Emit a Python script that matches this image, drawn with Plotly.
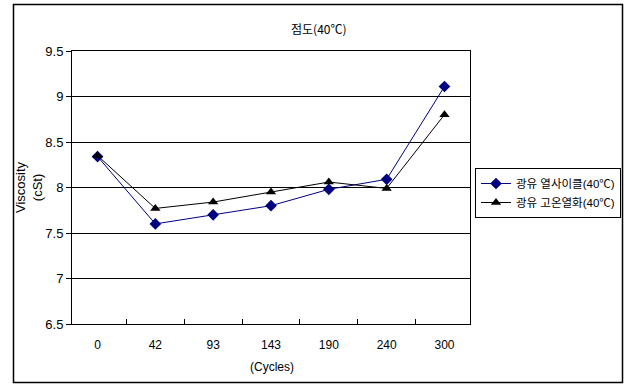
import plotly.graph_objects as go

# Data
cycles = ["0", "42", "93", "143", "190", "240", "300"]
thermal_cycle = [8.34, 7.60, 7.70, 7.80, 7.98, 8.09, 9.11]
high_temp_aging = [8.35, 7.77, 7.84, 7.95, 8.06, 7.99, 8.80]
y_ticks = [6.5, 7, 7.5, 8, 8.5, 9, 9.5]
y_tick_text = ["6.5", "7", "7.5", "8", "8.5", "9", "9.5"]

W, H = 626, 385
L, R, T, B = 72, 470, 51, 324  # plot area in pixels

def px_x(x):
    return (x - L) / (R - L)

def px_y(y):
    return (B - y) / (B - T)

FONT = "Liberation Sans, Arial, Noto Sans CJK KR"

fig = go.Figure()
fig.add_trace(go.Scatter(
    x=cycles, y=thermal_cycle, mode="lines+markers",
    name="광유 열사이클(40℃)",
    line=dict(color="#000080", width=1),
    marker=dict(symbol="diamond", size=9, color="#000080"),
))
fig.add_trace(go.Scatter(
    x=cycles, y=high_temp_aging, mode="lines+markers",
    name="광유 고온열화(40℃)",
    line=dict(color="#000000", width=1),
    marker=dict(symbol="triangle-up", size=9, color="#000000"),
))

fig.update_layout(
    width=W, height=H,
    margin=dict(l=L, r=W - R, t=T, b=H - B, pad=0, autoexpand=False),
    paper_bgcolor="white", plot_bgcolor="white",
    font=dict(family=FONT, size=12, color="#000000"),
    showlegend=True,
    legend=dict(
        xref="container", yref="container",
        x=475 / W, y=1 - 168 / H, xanchor="left", yanchor="top",
        bordercolor="#000000", borderwidth=1, bgcolor="white",
        font=dict(family=FONT, size=11.5), tracegroupgap=0,
        itemwidth=30,
    ),
    xaxis=dict(
        type="category", showgrid=False, zeroline=False,
        showline=True, linecolor="#000000", linewidth=1, mirror=True,
        ticks="inside", ticklen=5, tickcolor="#000000", tickson="boundaries",
        tickfont=dict(size=12), ticklabelstandoff=10, fixedrange=True,
    ),
    yaxis=dict(
        range=[6.5, 9.5], tickvals=y_ticks, ticktext=y_tick_text,
        showgrid=True, gridcolor="#000000", gridwidth=1, zeroline=False,
        showline=True, linecolor="#000000", linewidth=1, mirror=True,
        ticks="outside", ticklen=5, tickcolor="#000000",
        tickfont=dict(size=13), fixedrange=True,
    ),
    annotations=[
        dict(text="점도(40℃)", x=px_x(319), y=px_y(28), xref="paper", yref="paper",
             xanchor="center", yanchor="middle",
             showarrow=False, font=dict(family="Noto Sans CJK KR", size=12)),
        dict(text="Viscosity<br>(cSt)", x=px_x(29), y=px_y(187), xref="paper", yref="paper",
             xanchor="center", yanchor="middle",
             showarrow=False, textangle=-90, font=dict(size=13)),
        dict(text="(Cycles)", x=px_x(272), y=px_y(367), xref="paper", yref="paper",
             xanchor="center", yanchor="middle",
             showarrow=False, font=dict(size=12)),
    ],
    shapes=[
        dict(type="rect", xref="paper", yref="paper",
             x0=px_x(13.5), x1=px_x(622.5), y0=px_y(382.5), y1=px_y(4.5),
             line=dict(color="#000000", width=1.5), fillcolor="rgba(0,0,0,0)", layer="below"),
    ],
)

fig.write_html("out.html")
